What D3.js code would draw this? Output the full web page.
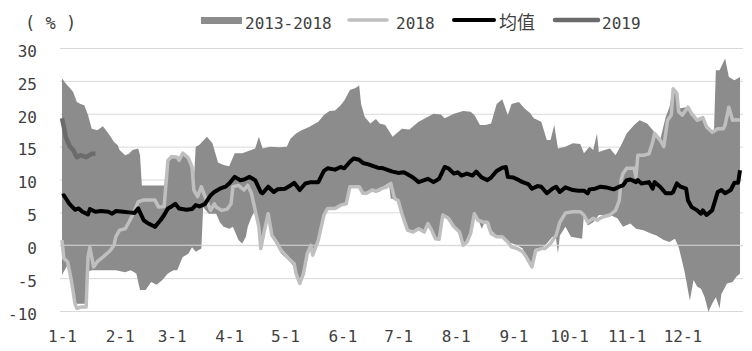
<!DOCTYPE html>
<html>
<head>
<meta charset="utf-8">
<script src="https://cdn.jsdelivr.net/npm/d3@7"></script>
<style>
  body { margin: 0; background: #fff; }
  text { font-family: "DejaVu Sans Mono", "Noto Sans CJK SC", monospace; }
</style>
</head>
<body>
<div id="chart"></div>
<script>
// x 轴：月初（一年中的第几天）
const monthLabels = ['1-1', '2-1', '3-1', '4-1', '5-1', '6-1', '7-1', '8-1', '9-1', '10-1', '11-1', '12-1'];
const monthStartDays = [0, 31, 59, 90, 120, 151, 181, 212, 243, 273, 304, 334];
const yTicks = [-10, -5, 0, 5, 10, 15, 20, 25, 30];

// 2013-2018 区间上沿 [day, %]
const rangeHigh = [
  [0, 25.4], [2, 24.6], [4, 24.0], [6, 23.3], [8, 21.8], [10, 21.5], [12, 21.3], [14, 19.8], [16, 17.7],
  [19, 17.5], [22, 18.1], [25, 17.0], [28, 15.7], [30, 15.2], [31, 14.5], [34, 13.7], [36, 13.9], [38, 14.5],
  [41, 14.7], [42, 13.7], [43, 9.1], [55, 9.1], [57, 12.9], [59, 13.5], [62, 13.4], [63, 12.9], [65, 14.0],
  [68, 13.3], [70, 12.4], [71, 10.0], [72, 15.0], [74, 15.3], [78, 16.5], [81, 15.5], [84, 12.6], [87, 12.2],
  [90, 12.0], [93, 14.0], [97, 14.0], [100, 14.3], [104, 14.7], [106, 16.5], [108, 14.7], [112, 15.0],
  [117, 14.9], [121, 15.0], [123, 16.2], [126, 17.0], [129, 17.5], [133, 18.0], [138, 18.8], [141, 19.8],
  [144, 20.4], [147, 20.5], [150, 21.3], [152, 22.0], [155, 23.6], [158, 23.9], [160, 24.3], [161, 21.5],
  [163, 19.5], [166, 18.5], [169, 19.2], [171, 18.5], [174, 18.3], [178, 16.5], [180, 17.0], [183, 17.7],
  [187, 17.6], [192, 18.8], [196, 19.4], [200, 20.0], [204, 19.9], [206, 19.3], [211, 20.0], [216, 20.4],
  [220, 20.3], [222, 19.8], [225, 18.3], [228, 18.3], [231, 18.5], [234, 21.5], [237, 22.2], [240, 19.8],
  [242, 21.5], [246, 21.8], [249, 20.8], [252, 20.1], [254, 19.3], [258, 18.8], [261, 16.0], [263, 16.0],
  [265, 18.3], [267, 14.7], [271, 15.0], [275, 15.5], [279, 15.4], [281, 14.0], [284, 15.0], [286, 14.5],
  [288, 17.0], [289, 14.2], [292, 14.5], [295, 14.7], [298, 13.7], [301, 15.2], [304, 17.0], [308, 18.3],
  [311, 19.0], [315, 18.5], [319, 17.2], [322, 16.0], [325, 19.5], [327, 21.0], [329, 23.8], [331, 23.5],
  [332, 20.8], [336, 21.0], [339, 19.8], [342, 19.3], [344, 19.5], [347, 18.3], [350, 17.5], [351, 17.5],
  [352, 26.6], [354, 26.6], [357, 28.4], [359, 25.6], [362, 25.1], [365, 25.6]
];

// 2013-2018 区间下沿
const rangeLow = [
  [0, -4.5], [3, -3.0], [5, -5.3], [7, -8.9], [13, -8.9], [14, -4.0], [16, -3.8], [21, -3.8], [25, -3.8],
  [29, -3.8], [34, -4.1], [37, -3.8], [40, -4.3], [42, -6.8], [45, -6.8], [48, -5.6], [51, -6.0], [54, -5.3],
  [57, -4.3], [60, -3.8], [62, -3.8], [65, -1.8], [68, -1.3], [70, -0.3], [72, -1.0], [75, -0.5], [76, 5.8],
  [79, 4.8], [83, 4.8], [85, 3.5], [87, 2.8], [90, 2.5], [92, 2.8], [95, 0.8], [97, 0.25], [99, 1.3],
  [100, 2.8], [102, 4.3], [104, 5.3], [106, 2.8], [107, -0.7], [109, 1.8], [111, 4.8], [113, 1.8],
  [115, 0.25], [118, -1.3], [122, -2.3], [125, -3.3], [128, -5.8], [130, -4.3], [133, -0.3], [135, -1.3],
  [138, 0.8], [141, 4.6], [143, 5.6], [147, 5.8], [150, 6.1], [153, 6.3], [155, 8.9], [161, 8.9], [163, 7.6],
  [166, 8.1], [169, 8.4], [171, 8.1], [173, 8.9], [176, 9.5], [177, 7.1], [181, 6.8], [183, 4.8], [186, 2.3],
  [189, 2.3], [192, 2.5], [195, 2.0], [197, 3.5], [199, 2.5], [201, 1.0], [203, 1.0], [205, 4.6], [208, 4.1],
  [211, 2.8], [214, 2.0], [216, 0], [218, 0.3], [220, 1.8], [222, 4.8], [224, 4.0], [226, 2.5], [228, 3.8],
  [230, 3.5], [231, 2.3], [234, 1.5], [237, 1.3], [240, 0.5], [242, 0.3], [245, 0], [248, -0.5], [250, -1.8],
  [253, -3.3], [255, -0.5], [258, -0.5], [261, 0.25], [264, 1.3], [266, 1.0], [267, -1.3], [268, 1.5],
  [271, 2.8], [274, 1.3], [280, 1.0], [281, 4.8], [283, 3.0], [286, 3.5], [289, 4.6], [292, 4.6], [295, 4.6],
  [299, 4.1], [302, 2.8], [306, 3.3], [309, 2.5], [313, 2.3], [317, 1.8], [320, 1.5], [324, 0.8], [327, 0.5],
  [330, 1.0], [332, -0.3], [335, -3.8], [336, -5.3], [338, -8.4], [340, -5.3], [342, -6.3], [344, -6.6],
  [346, -7.9], [348, -10.1], [350, -8.9], [352, -7.9], [354, -9.6], [355, -7.4], [358, -5.8], [361, -5.6],
  [363, -4.8], [365, -4.3]
];

const values2018 = [
  [0, 0.8], [1, -2.0], [3, -2.5], [5, -5.3], [7, -8.9], [8, -9.6], [10, -9.4], [13, -9.4], [14, -1.8],
  [15, -0.3], [17, -3.3], [19, -2.5], [22, -1.8], [26, -0.8], [28, 0], [29, 1.3], [31, 2.3], [34, 2.5],
  [36, 3.5], [38, 4.6], [41, 6.6], [44, 6.9], [50, 6.9], [52, 5.8], [55, 5.9], [57, 12.9], [59, 13.5],
  [62, 13.4], [63, 12.9], [65, 14.0], [68, 13.3], [70, 11.9], [71, 8.4], [73, 7.4], [75, 8.9], [77, 7.4],
  [80, 5.3], [82, 6.3], [83, 5.8], [86, 5.3], [89, 5.5], [91, 6.3], [92, 8.9], [95, 9.1], [98, 8.4],
  [100, 9.1], [102, 7.9], [104, 5.3], [106, 2.8], [107, -0.5], [109, 2.3], [111, 4.8], [113, 1.5],
  [116, 0.25], [118, -0.8], [122, -2.0], [125, -2.8], [126, -4.3], [128, -5.8], [130, -4.3], [132, -1.3],
  [134, 0], [135, -1.5], [138, 0.8], [141, 4.6], [143, 5.6], [147, 5.6], [150, 6.1], [153, 6.3], [155, 8.9],
  [160, 8.9], [162, 7.9], [164, 7.9], [167, 8.4], [169, 8.2], [172, 8.6], [175, 8.9], [177, 9.4], [179, 7.1],
  [181, 6.8], [183, 4.8], [186, 2.3], [189, 2.0], [192, 2.5], [195, 2.0], [197, 3.3], [199, 2.3], [201, 1.0],
  [203, 0.9], [205, 4.6], [208, 4.1], [211, 2.8], [214, 2.0], [216, 0], [218, 0.5], [220, 1.8], [222, 4.8],
  [224, 3.8], [227, 3.5], [229, 3.5], [231, 1.8], [234, 1.3], [237, 1.3], [240, 0.5], [242, -0.25],
  [245, -0.5], [248, -1.0], [250, -1.8], [253, -3.3], [255, -0.8], [258, -0.5], [260, -0.5], [263, 0.25],
  [266, 1.5], [268, 3.5], [271, 4.9], [275, 5.1], [279, 5.1], [281, 4.6], [283, 3.5], [286, 4.1], [288, 3.8],
  [291, 4.3], [295, 4.6], [298, 5.3], [300, 6.8], [301, 9.9], [302, 10.9], [304, 11.7], [308, 11.7],
  [309, 10.4], [310, 13.7], [313, 13.7], [316, 13.9], [318, 15.7], [319, 17.0], [322, 16.0], [324, 15.0],
  [326, 19.0], [328, 19.8], [329, 23.8], [331, 23.1], [332, 20.3], [334, 19.8], [337, 21.0], [339, 20.0],
  [342, 19.0], [345, 19.4], [347, 18.0], [350, 17.2], [353, 17.7], [356, 17.7], [357, 18.3], [359, 21.0],
  [361, 19.0], [363, 19.1], [365, 19.0]
];

// 均值
const meanValues = [
  [0, 7.5], [1, 7.6], [4, 6.3], [7, 5.4], [9, 5.6], [11, 5.1], [14, 4.7], [15, 5.5], [18, 5.1], [21, 5.2],
  [25, 5.1], [27, 4.8], [29, 5.2], [33, 5.1], [36, 5.0], [39, 4.9], [41, 5.6], [44, 3.8], [46, 3.4], [50, 2.8],
  [53, 3.8], [55, 4.6], [57, 5.6], [59, 5.9], [61, 6.3], [63, 5.6], [67, 5.4], [70, 5.5], [72, 6.1], [74, 5.9],
  [77, 6.3], [80, 7.6], [82, 8.1], [85, 8.6], [88, 8.9], [90, 9.4], [93, 10.4], [96, 9.9], [98, 10.0],
  [101, 10.4], [104, 9.9], [107, 8.1], [108, 7.9], [111, 8.9], [114, 8.1], [116, 8.5], [120, 8.6], [123, 9.1],
  [125, 9.5], [128, 8.4], [131, 9.4], [134, 9.6], [138, 9.6], [141, 11.3], [143, 11.7], [147, 11.5],
  [150, 11.9], [152, 11.7], [155, 12.7], [157, 13.2], [160, 13.0], [162, 12.5], [165, 12.3], [168, 12.0],
  [170, 11.8], [173, 11.7], [176, 11.4], [178, 11.2], [181, 11.0], [184, 11.1], [186, 10.8], [189, 10.3],
  [192, 9.6], [195, 9.9], [197, 10.1], [200, 9.6], [203, 10.1], [206, 11.9], [208, 11.7], [211, 10.9],
  [213, 11.1], [215, 10.6], [218, 10.9], [221, 10.6], [223, 11.2], [226, 10.3], [229, 9.9], [231, 10.3],
  [234, 11.3], [237, 11.8], [239, 11.9], [240, 10.4], [243, 10.3], [246, 9.9], [248, 9.6], [251, 9.3],
  [253, 8.6], [256, 9.0], [258, 8.9], [261, 7.9], [264, 8.6], [266, 8.9], [268, 8.1], [271, 8.8], [275, 8.4],
  [278, 8.3], [281, 8.3], [283, 7.9], [284, 8.5], [287, 8.6], [290, 8.9], [293, 8.8], [297, 8.5], [300, 8.9],
  [302, 9.1], [304, 9.9], [306, 10.0], [309, 9.6], [310, 9.9], [312, 9.4], [316, 9.6], [318, 8.6], [319, 9.6],
  [322, 8.9], [325, 7.9], [328, 7.9], [329, 8.1], [331, 9.4], [333, 8.9], [336, 8.6], [337, 6.8], [339, 5.8],
  [342, 5.3], [344, 4.8], [345, 5.3], [347, 4.6], [350, 5.3], [353, 8.1], [355, 8.4], [357, 7.9], [360, 8.4],
  [362, 9.5], [364, 9.5], [365, 11.4]
];

const values2019 = [
  [0, 19.3], [1, 18.0], [2, 16.5], [4, 15.1], [6, 14.5], [8, 13.4], [10, 13.7], [13, 13.4], [16, 13.9], [18, 13.9]
];

const W = 752;
const H = 351;
const gridLeft = 60;
const gridRight = 743;

const svg = d3.select('#chart')
  .append('svg')
  .attr('width', W)
  .attr('height', H);

// 尺度
const x = d3.scaleLinear().domain([0, 365]).range([62, 740]);
const y = d3.scaleLinear().domain([-10, 30]).range([311, 48]);

// y 轴 + 网格线
const yAxis = svg.append('g')
  .attr('transform', `translate(${gridLeft}, 0)`)
  .call(d3.axisLeft(y)
    .tickValues(yTicks)
    .tickSize(-(gridRight - gridLeft))
    .tickPadding(23)
    .tickFormat(d3.format('d')));
yAxis.select('.domain').remove();
yAxis.selectAll('line').attr('stroke', '#d9d9d9').attr('stroke-width', 1);
yAxis.selectAll('text')
  .attr('fill', '#404040')
  .attr('font-size', 16)
  .attr('dy', '0.52em')
  .text((d) => d < 0 ? '-' + Math.abs(d) : d);

// x 轴标签
const xAxis = svg.append('g')
  .attr('transform', `translate(0, ${y(-10)})`)
  .call(d3.axisBottom(x)
    .tickValues(monthStartDays)
    .tickFormat((d, i) => monthLabels[i])
    .tickSize(0)
    .tickPadding(20));
xAxis.select('.domain').remove();
xAxis.selectAll('text').attr('fill', '#404040').attr('font-size', 16);

const line = d3.line()
  .x((d) => x(d[0]))
  .y((d) => y(d[1]));

// 2013-2018 区间
svg.append('path')
  .attr('d', line(rangeHigh.concat(rangeLow.slice().reverse())) + 'Z')
  .attr('fill', '#8c8c8c');

// 横轴 0 线
svg.append('line')
  .attr('x1', gridLeft).attr('x2', gridRight)
  .attr('y1', y(0)).attr('y2', y(0))
  .attr('stroke', '#d9d9d9');

svg.append('path')
  .attr('d', line(values2018))
  .attr('fill', 'none')
  .attr('stroke', '#bfbfbf')
  .attr('stroke-width', 3.5)
  .attr('stroke-linejoin', 'round');

svg.append('path')
  .attr('d', line(meanValues))
  .attr('fill', 'none')
  .attr('stroke', '#000')
  .attr('stroke-width', 4)
  .attr('stroke-linejoin', 'round');

svg.append('path')
  .attr('d', line(values2019))
  .attr('fill', 'none')
  .attr('stroke', '#6b6b6b')
  .attr('stroke-width', 4.5)
  .attr('stroke-linejoin', 'round');

// 单位
svg.append('text')
  .attr('x', 25)
  .attr('y', 29)
  .attr('fill', '#404040')
  .attr('font-size', 17)
  .attr('xml:space', 'preserve')
  .style('white-space', 'pre')
  .text('( % )');

// 图例
const legend = svg.append('g');
legend.append('rect')
  .attr('x', 201).attr('y', 17).attr('width', 41).attr('height', 7)
  .attr('fill', '#8c8c8c');
legend.append('text').attr('x', 245).attr('y', 29).text('2013-2018');

legend.append('line')
  .attr('x1', 349).attr('x2', 387).attr('y1', 20).attr('y2', 20)
  .attr('stroke', '#bfbfbf').attr('stroke-width', 3.5).attr('stroke-linecap', 'round');
legend.append('text').attr('x', 396).attr('y', 29).text('2018');

legend.append('line')
  .attr('x1', 454).attr('x2', 494).attr('y1', 20).attr('y2', 20)
  .attr('stroke', '#000').attr('stroke-width', 4).attr('stroke-linecap', 'round');
legend.append('text').attr('x', 499).attr('y', 29)
  .style('font-family', '"Noto Sans CJK SC"').attr('font-size', 18).text('均值');

legend.append('line')
  .attr('x1', 555).attr('x2', 598).attr('y1', 20).attr('y2', 20)
  .attr('stroke', '#6b6b6b').attr('stroke-width', 4.5).attr('stroke-linecap', 'round');
legend.append('text').attr('x', 602).attr('y', 29).text('2019');

legend.selectAll('text').attr('fill', '#404040').filter(function () {
  return !this.getAttribute('font-size');
}).attr('font-size', 16);
</script>
</body>
</html>
